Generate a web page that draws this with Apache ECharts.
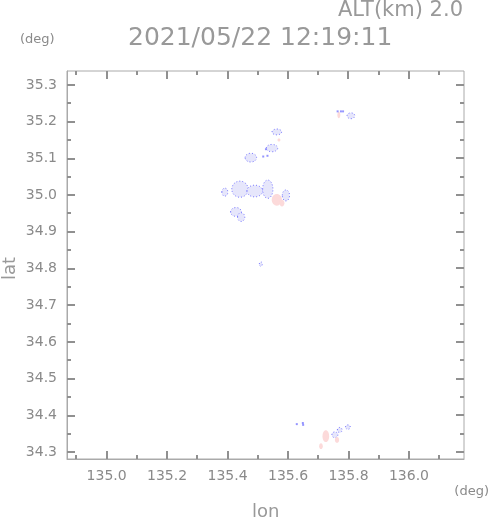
<!DOCTYPE html>
<html><head><meta charset="utf-8">
<script src="https://cdn.jsdelivr.net/npm/echarts@6/dist/echarts.min.js"></script>
<style>html,body{margin:0;padding:0;background:#fff}#c{width:491px;height:521px}</style>
</head><body><div id="c"></div>
<script>
// Echo regions: [lon center, lat center, lon half-extent, lat half-extent] (deg)
var blueEchoes = [
  [135.391, 35.008, 0.010, 0.011],
  [135.441, 35.016, 0.027, 0.022],
  [135.490, 35.011, 0.026, 0.016],
  [135.533, 35.016, 0.017, 0.025],
  [135.593, 34.999, 0.012, 0.015],
  [135.428, 34.954, 0.018, 0.012],
  [135.445, 34.940, 0.012, 0.012],
  [135.563, 35.172, 0.016, 0.008],
  [135.547, 35.128, 0.019, 0.010],
  [135.477, 35.102, 0.019, 0.012],
  [135.510, 34.812, 0.005, 0.006],
  [135.808, 35.216, 0.013, 0.008],
  [135.755, 34.347, 0.010, 0.008],
  [135.771, 34.360, 0.008, 0.007],
  [135.798, 34.368, 0.008, 0.006]
];
var pinkEchoes = [
  [135.563, 34.987, 0.017, 0.016],
  [135.580, 34.978, 0.008, 0.009],
  [135.570, 35.150, 0.004, 0.004],
  [135.768, 35.218, 0.004, 0.009],
  [135.725, 34.343, 0.011, 0.016],
  [135.762, 34.333, 0.007, 0.008],
  [135.709, 34.316, 0.006, 0.008]
];
var blueDots = [
  [135.629, 34.376], [135.649, 34.379], [135.650, 34.374],
  [135.764, 35.228], [135.775, 35.228], [135.782, 35.228],
  [135.527, 35.125], [135.518, 35.105], [135.532, 35.107]
];
var xMin = 134.869, xMax = 136.182, yMin = 34.281, yMax = 35.338;
var xTicks = [135.0, 135.2, 135.4, 135.6, 135.8, 136.0];
var xMinorTicks = [134.9, 135.1, 135.3, 135.5, 135.7, 135.9, 136.1];
var yTicks = [34.3, 34.4, 34.5, 34.6, 34.7, 34.8, 34.9, 35.0, 35.1, 35.2, 35.3];
var yMinorTicks = [34.35, 34.45, 34.55, 34.65, 34.75, 34.85, 34.95, 35.05, 35.15, 35.25];
var titleText = '2021/05/22 12:19:11';
var altText = 'ALT(km) 2.0';

var GRAY = '#8a8a8a', LIGHT = '#999999', AX = '#aaaaaa', TICK = '#909090', FONT = 'DejaVu Sans';

function ellipseSeries(data, fill, stroke) {
  return {
    type: 'custom', coordinateSystem: 'cartesian2d',
    clip: true, data: data, silent: true,
    renderItem: function (params, api) {
      var c = api.coord([api.value(0), api.value(1)]);
      var s = api.size([api.value(2), api.value(3)]);
      return {
        type: 'ellipse',
        shape: { cx: c[0], cy: c[1], rx: Math.max(s[0], 1.5), ry: Math.max(s[1], 1.5) },
        style: { fill: fill, stroke: stroke, lineWidth: stroke ? 1 : 0, lineDash: stroke ? [1, 2] : null }
      };
    }
  };
}

var chart = echarts.init(document.getElementById('c'));
chart.setOption({
  animation: false,
  grid: { left: 67, right: 27, top: 71, bottom: 62, show: true, borderColor: AX, borderWidth: 1, backgroundColor: 'transparent' },
  xAxis: { type: 'value', min: xMin, max: xMax, splitLine: { show: false },
    axisLine: { show: true, onZero: false, lineStyle: { color: AX } },
    axisTick: { show: true, inside: true, length: 8, customValues: xTicks, lineStyle: { color: TICK, width: 2 } },
    axisLabel: { customValues: xTicks, color: GRAY, fontFamily: FONT, fontSize: 14, margin: 10,
      formatter: function (v) { return (+v).toFixed(1); } } },
  yAxis: { type: 'value', min: yMin, max: yMax, splitLine: { show: false },
    axisLine: { show: true, onZero: false, lineStyle: { color: AX } },
    axisTick: { show: true, inside: true, length: 8, customValues: yTicks, lineStyle: { color: TICK, width: 2 } },
    axisLabel: { customValues: yTicks, color: GRAY, fontFamily: FONT, fontSize: 14, margin: 10,
      formatter: function (v) { return (+v).toFixed(1); } } },
  series: [
    ellipseSeries(blueEchoes, '#e6e6fb', '#7a7aff'),
    ellipseSeries(pinkEchoes, '#fcdada', null),
    { type: 'scatter', data: blueDots, symbol: 'rect', symbolSize: 2,
      itemStyle: { color: '#7a7aff' }, silent: true }
  ]
});

// remaining frame ticks (minor ticks, and mirrored ticks on top/right), placed through the axis scales
var g = [];
function tick(x1, y1, x2, y2) {
  g.push({ type: 'line', silent: true, z: 100,
    shape: { x1: x1, y1: y1, x2: x2, y2: y2 }, style: { stroke: TICK, lineWidth: 2 } });
}
var pTop = chart.convertToPixel({ gridIndex: 0 }, [xMin, yMax]);
var pBot = chart.convertToPixel({ gridIndex: 0 }, [xMax, yMin]);
var L = pTop[0], T = pTop[1], R = pBot[0], B = pBot[1];
xTicks.forEach(function (v) { var x = Math.round(chart.convertToPixel({ xAxisIndex: 0 }, v)); tick(x, T, x, T + 8); });
xMinorTicks.forEach(function (v) { var x = Math.round(chart.convertToPixel({ xAxisIndex: 0 }, v)); tick(x, T, x, T + 4); tick(x, B, x, B - 4); });
yTicks.forEach(function (v) { var y = Math.round(chart.convertToPixel({ yAxisIndex: 0 }, v)); tick(R, y, R - 8, y); });
yMinorTicks.forEach(function (v) { var y = Math.round(chart.convertToPixel({ yAxisIndex: 0 }, v)); tick(L, y, L + 4, y); tick(R, y, R - 4, y); });

g.push(
  { type: 'text', left: 128, top: 26, style: { text: titleText, fill: LIGHT, font: '25px "DejaVu Sans"' } },
  { type: 'text', right: 28, top: 0, style: { text: altText, fill: LIGHT, font: '21px "DejaVu Sans"' } },
  { type: 'text', left: 20, top: 33, style: { text: '(deg)', fill: GRAY, font: '13px "DejaVu Sans"' } },
  { type: 'text', right: 2, top: 485, style: { text: '(deg)', fill: GRAY, font: '13px "DejaVu Sans"' } },
  { type: 'text', left: 252, top: 503, style: { text: 'lon', fill: LIGHT, font: '18px "DejaVu Sans"' } },
  { type: 'text', x: 1, y: 280, rotation: Math.PI / 2, style: { text: 'lat', fill: LIGHT, font: '18px "DejaVu Sans"' } }
);
chart.setOption({ graphic: g });
</script></body></html>
